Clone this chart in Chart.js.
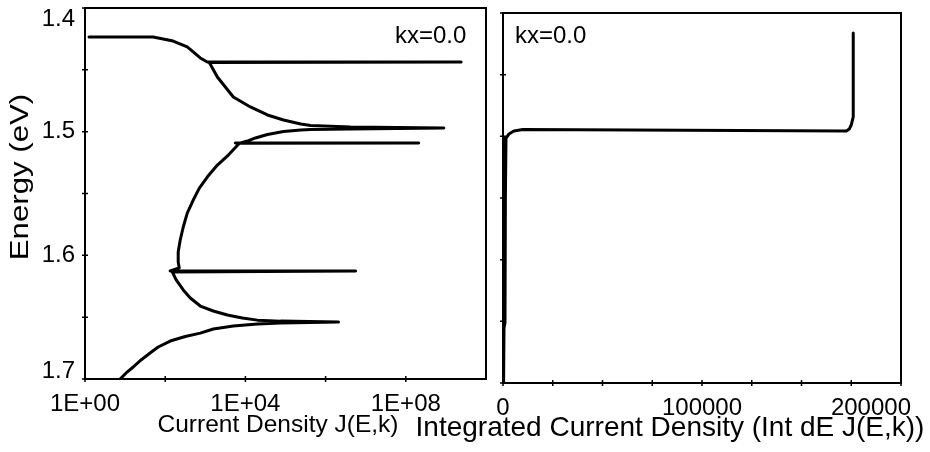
<!DOCTYPE html>
<html>
<head>
<meta charset="utf-8">
<title>Current density vs energy, kx=0.0</title>
<script src="https://cdn.jsdelivr.net/npm/chart.js@4.4.1/dist/chart.umd.min.js"></script>
<style>
  html, body { margin: 0; padding: 0; background: #fff; }
  #wrap { position: relative; width: 930px; height: 452px; }
  canvas { position: absolute; left: 0; top: 0; }
</style>
</head>
<body>
<div id="wrap">
  <canvas id="chartJ" width="930" height="452"></canvas>
  <canvas id="chartInt" width="930" height="452"></canvas>
</div>
<script>
// left panel: current density J(E,k) (log scale) against energy
const energyJ = [1.4235, 1.4235, 1.4235, 1.4267, 1.4315, 1.4404, 1.4437, 1.4437, 1.4440, 1.4558,
  1.4720, 1.4800, 1.4865, 1.4906, 1.4938, 1.4950, 1.4962, 1.4970, 1.4978, 1.4982,
  1.4987, 1.4999, 1.5023, 1.5051, 1.5076, 1.5090, 1.5092, 1.5092, 1.5094, 1.5189,
  1.5270, 1.5367, 1.5456, 1.5553, 1.5658, 1.5771, 1.5876, 1.5973, 1.6054, 1.6102,
  1.6126, 1.6126, 1.6134, 1.6199, 1.6280, 1.6345, 1.6410, 1.6450, 1.6483, 1.6507,
  1.6524, 1.6532, 1.6540, 1.6548, 1.6556, 1.6572, 1.6596, 1.6629, 1.6656, 1.6693,
  1.6741, 1.6790, 1.6846, 1.6903, 1.6951, 1.7000];
const currentJ = [1.26, 10, 50, 158, 355, 750, 1120, 2.4e9, 1260, 2000,
  5000, 1.33e4, 3.55e4, 8.9e4, 2.4e5, 4.2e5, 4.2e6, 8.9e8, 4.2e6, 4.2e5,
  2.4e5, 8.9e4, 3.55e4, 1.78e4, 1.12e4, 7900, 5600, 2.1e8, 7100, 3760,
  2000, 1120, 710, 500, 355, 282, 237, 211, 211, 224,
  133, 5.6e6, 150, 188, 282, 422, 750, 1580, 3550, 8400,
  2.0e4, 7.5e4, 2.1e6, 7.5e4, 2.0e4, 5000, 1580, 750, 316, 133,
  67, 42, 25, 16, 10.6, 7.5];

// right panel: integrated current density against energy
const energyInt = [1.4162, 1.4843, 1.4908, 1.4941, 1.4957, 1.4945, 1.4957, 1.4981, 1.5014, 1.5500, 1.6514, 1.6554, 1.7000];
const intJ = [176000, 176000, 175000, 174000, 172500, 10000, 5500, 3000, 1500, 1200, 1000, 500, 300];

// ticks and labels
const energyTicks = [1.4, 1.45, 1.5, 1.55, 1.6, 1.65, 1.7];
const energyLabels = [1.4, 1.5, 1.6, 1.7];
const jTicks = [1, 1e2, 1e4, 1e6, 1e8];
const jLabels = [1, 1e4, 1e8];
const intTicks = [0, 25000, 50000, 75000, 100000, 125000, 150000, 175000, 200000];
const intLabels = [0, 100000, 200000];

const fontName = '"Liberation Sans", Arial, Helvetica, sans-serif';

// frame, cross ticks, labels and titles drawn on top of each panel
const axisDecor = (o) => ({
  id: 'axisDecor',
  afterDraw(chart) {
    const ctx = chart.ctx;
    const a = chart.chartArea;
    const xs = chart.scales.x;
    const ys = chart.scales.y;
    ctx.save();
    ctx.strokeStyle = '#000';
    ctx.fillStyle = '#000';
    ctx.lineWidth = 2;
    ctx.strokeRect(a.left, a.top, a.right - a.left, a.bottom - a.top);

    ctx.lineWidth = 1.5;
    ctx.beginPath();
    o.yTicks.forEach(v => {
      const y = ys.getPixelForValue(v);
      ctx.moveTo(a.left - 3, y);
      ctx.lineTo(a.left + 3, y);
    });
    o.xTicks.forEach(v => {
      const x = xs.getPixelForValue(v);
      ctx.moveTo(x, a.bottom - 3);
      ctx.lineTo(x, a.bottom + 3);
    });
    ctx.stroke();

    ctx.font = o.tickSize + 'px ' + fontName;
    ctx.textBaseline = 'middle';
    ctx.textAlign = 'right';
    o.yLabels.forEach(v => {
      let y = ys.getPixelForValue(v);
      y = Math.min(Math.max(y, a.top + 11), a.bottom - 8);
      ctx.fillText(o.fmtY(v), a.left - 10, y);
    });
    ctx.textAlign = 'center';
    o.xLabels.forEach(v => {
      const t = o.fmtX(v);
      const w = ctx.measureText(t).width;
      const x = Math.min(xs.getPixelForValue(v), a.right + 10 - w / 2);
      ctx.fillText(t, x, o.xLabelY);
    });

    ctx.font = o.xTitle.size + 'px ' + fontName;
    ctx.fillText(o.xTitle.text, o.xTitle.x, o.xTitle.y);
    if (o.yTitle) {
      ctx.save();
      ctx.font = o.yTitle.size + 'px ' + fontName;
      ctx.translate(o.yTitle.x, o.yTitle.y);
      ctx.rotate(-Math.PI / 2);
      ctx.scale(o.yTitle.stretch, 1);
      ctx.fillText(o.yTitle.text, 0, 0);
      ctx.restore();
    }
    ctx.font = o.noteSize + 'px ' + fontName;
    ctx.textAlign = 'left';
    ctx.textBaseline = 'alphabetic';
    ctx.fillText('kx=0.0', o.noteX, o.noteY);
    ctx.restore();
  }
});

const lineStyle = {
  showLine: true,
  borderColor: '#000',
  borderWidth: 3,
  pointRadius: 0,
  borderJoinStyle: 'round',
  borderCapStyle: 'round'
};

new Chart(document.getElementById('chartJ'), {
  type: 'scatter',
  data: {
    datasets: [{ ...lineStyle, data: energyJ.map((e, i) => ({ x: currentJ[i], y: e })) }]
  },
  options: {
    responsive: false,
    animation: false,
    layout: { padding: { left: 85, top: 8, right: 444, bottom: 73 } },
    plugins: { legend: { display: false }, tooltip: { enabled: false } },
    scales: {
      x: { type: 'logarithmic', min: 1, max: 1e10, display: false },
      y: { min: 1.4, max: 1.7, reverse: true, display: false }
    }
  },
  plugins: [axisDecor({
    yTicks: energyTicks, xTicks: jTicks, yLabels: energyLabels, xLabels: jLabels,
    fmtY: v => v.toFixed(1),
    fmtX: v => '1E+' + String(Math.round(Math.log10(v))).padStart(2, '0'),
    tickSize: 24, xLabelY: 404,
    xTitle: { text: 'Current Density J(E,k)', x: 278, y: 425, size: 24.5 },
    yTitle: { text: 'Energy (eV)', x: 21, y: 177, size: 26, stretch: 1.2 },
    noteSize: 24, noteX: 395, noteY: 43
  })]
});

new Chart(document.getElementById('chartInt'), {
  type: 'scatter',
  data: {
    datasets: [{ ...lineStyle, data: energyInt.map((e, i) => ({ x: intJ[i], y: e })) }]
  },
  options: {
    responsive: false,
    animation: false,
    layout: { padding: { left: 503, top: 13, right: 29, bottom: 69 } },
    plugins: { legend: { display: false }, tooltip: { enabled: false } },
    scales: {
      x: { type: 'linear', min: 0, max: 200000, display: false },
      y: { min: 1.4, max: 1.7, reverse: true, display: false }
    }
  },
  plugins: [axisDecor({
    yTicks: energyTicks, xTicks: intTicks, yLabels: [], xLabels: intLabels,
    fmtY: v => v.toFixed(1),
    fmtX: v => String(v),
    tickSize: 24, xLabelY: 408,
    xTitle: { text: 'Integrated Current Density (Int dE J(E,k))', x: 670, y: 428, size: 28 },
    yTitle: null,
    noteSize: 24, noteX: 515, noteY: 43
  })]
});
</script>
</body>
</html>
